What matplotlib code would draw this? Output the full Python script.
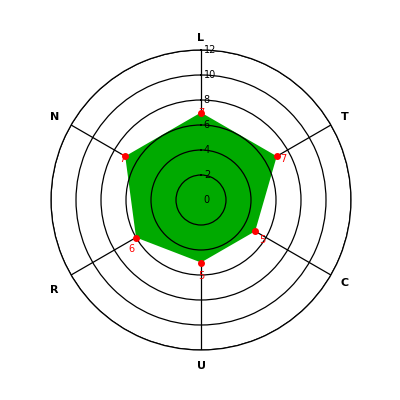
import numpy as np
import matplotlib
matplotlib.use("Agg")
import matplotlib.pyplot as plt

categories = ["L", "T", "C", "U", "R", "N"]
values = [7, 7, 5, 5, 6, 7]
rticks = [0, 2, 4, 6, 8, 10, 12]

fig = plt.figure(figsize=(4, 4), dpi=100)
ax = fig.add_axes([0.1275, 0.125, 0.75, 0.75], projection="polar")
ax.set_theta_offset(np.pi / 2)
ax.set_theta_direction(-1)
ax.set_ylim(0, 12)

n = len(categories)
theta = np.arange(n) * 2 * np.pi / n

# grid
ax.set_xticks([])
ax.set_yticks(rticks[1:])
ax.set_yticklabels([])
ax.yaxis.grid(True, color="black", linewidth=0.9)
ax.xaxis.grid(False)
ax.set_axisbelow(False)
ax.spines["polar"].set_color("black")
ax.spines["polar"].set_linewidth(0.9)

for t in theta:
    ax.plot([t, t], [0, 12], color="black", linewidth=0.9, zorder=1)

tc = np.append(theta, theta[0])
vc = np.append(values, values[0])
ax.fill(tc, vc, color="#00aa00", zorder=2, linewidth=0)
ax.plot(theta, values, "o", color="red", markersize=4, zorder=4)

for r in rticks:
    ax.annotate(str(r), xy=(0, r), xytext=(2, 0), textcoords="offset points",
                ha="left", va="center", fontsize=7, color="black", zorder=5)

offsets = [(0, 0), (5, -2), (5, -6), (0, -10), (-3, -8), (-2, -2)]
for t, v, off in zip(theta, values, offsets):
    ax.annotate(str(v), xy=(t, v), xytext=off, textcoords="offset points",
                ha="center", va="center", fontsize=7, color="red", zorder=6)

label_offsets = [(0, -3), (0, 0), (0, 0), (0, 0), (-2, -5), (-2, 0)]
for t, c, off in zip(theta, categories, label_offsets):
    ax.annotate(c, xy=(t, 13.3), xytext=off, textcoords="offset points",
                ha="center", va="center", fontsize=8, fontweight="bold",
                annotation_clip=False)

fig.savefig("out.png", dpi=100, facecolor="white")
